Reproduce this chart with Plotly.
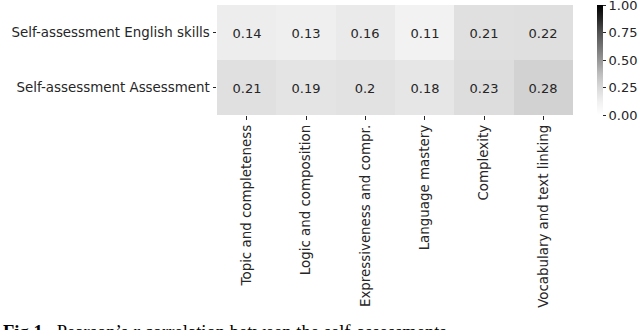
import plotly.graph_objects as go

rows = ["Self-assessment English skills", "Self-assessment Assessment"]
cols = ["Topic and completeness", "Logic and composition", "Expressiveness and compr.",
        "Language mastery", "Complexity", "Vocabulary and text linking"]
english = [0.14, 0.13, 0.16, 0.11, 0.21, 0.22]
assessment = [0.21, 0.19, 0.2, 0.18, 0.23, 0.28]
cbar_ticks = [0.0, 0.25, 0.5, 0.75, 1.0]
caption = "<b>Fig 1.</b>  Pearson\u2019s <i>r</i> correlation between the self-assessments"

z = [english, assessment]
text = [[str(v) for v in r] for r in z]

greys = [[0.0, "#ffffff"], [0.125, "#f0f0f0"], [0.25, "#d9d9d9"], [0.375, "#bdbdbd"],
         [0.5, "#969696"], [0.625, "#737373"], [0.75, "#525252"], [0.875, "#252525"],
         [1.0, "#000000"]]

W, H = 640, 330
L, R, T, B = 217, 67, 5, 215
pw = W - L - R
ph = H - T - B
FS = 13.4

tickpos = [min(v, 0.9999) for v in cbar_ticks]
ticklab = ["%.2f" % v for v in cbar_ticks]

fig = go.Figure(go.Heatmap(
    z=z, x=cols, y=rows, text=text, texttemplate="%{text}",
    textfont=dict(family="DejaVu Sans", size=13, color="#262626"),
    colorscale=greys, zmin=0, zmax=1, xgap=0, ygap=0, hoverinfo="skip",
    colorbar=dict(
        thickness=6, len=1, lenmode="fraction", y=0.5, yanchor="middle",
        x=1 + (597 - (L + pw)) / pw, xanchor="left", xpad=0, ypad=0,
        outlinewidth=0, tickvals=tickpos, ticktext=ticklab, ticklabeloverflow="allow",
        ticks="outside", ticklen=3.5, tickwidth=0.8, tickcolor="#262626",
        tickfont=dict(family="DejaVu Sans", size=13, color="#262626"),
    ),
))

fig.update_layout(
    width=W, height=H, margin=dict(l=L, r=R, t=T, b=B, autoexpand=False),
    paper_bgcolor="white", plot_bgcolor="white",
    font=dict(family="DejaVu Sans", size=FS, color="#262626"),
    xaxis=dict(tickangle=-90, ticks="outside", ticklen=3.5, tickwidth=0.8,
               tickcolor="#262626", showgrid=False, zeroline=False, showline=False,
               automargin=False, tickfont=dict(size=FS)),
    yaxis=dict(autorange="reversed", ticks="outside", ticklen=3.5, tickwidth=0.8,
               tickcolor="#262626", showgrid=False, zeroline=False, showline=False,
               automargin=False, tickfont=dict(size=FS)),
    annotations=[dict(
        text=caption, xref="paper", yref="paper",
        x=-(L - 1) / pw, y=-(319 - (H - B)) / ph, xanchor="left", yanchor="top",
        showarrow=False, font=dict(family="Liberation Serif", size=18.6, color="black"),
    )],
)

fig.write_html("out.html", config={"displayModeBar": False},
               post_script="document.body.style.margin='0';document.body.style.overflow='hidden';")
